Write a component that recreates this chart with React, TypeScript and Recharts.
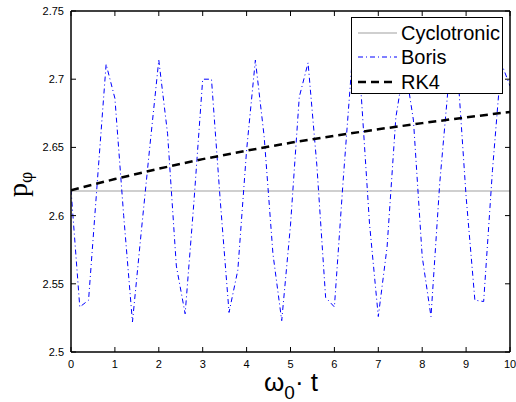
import {
  LineChart,
  Line,
  XAxis,
  YAxis,
  Legend,
  Label,
} from 'recharts'

// momentum p_phi vs normalised time, three integrators
const X_TICKS = [0, 1, 2, 3, 4, 5, 6, 7, 8, 9, 10]
const Y_TICKS = [2.5, 2.55, 2.6, 2.65, 2.7, 2.75]
const Y_TICK_LABELS = ['2.5', '2.55', '2.6', '2.65', '2.7', '2.75']

const T_CYCLO = [0, 10]
const P_CYCLO = [2.618, 2.618]

const T_BORIS = [
  0, 0.2, 0.4, 0.6, 0.8, 1, 1.2, 1.4, 1.6, 1.8, 2, 2.2, 2.4, 2.6, 2.8, 3, 3.2, 3.4, 3.6, 3.8, 4,
  4.2, 4.4, 4.6, 4.8, 5, 5.2, 5.4, 5.6, 5.8, 6, 6.2, 6.4, 6.6, 6.8, 7, 7.2, 7.4, 7.6, 7.8, 8,
  8.2, 8.4, 8.6, 8.8, 9, 9.2, 9.4, 9.6, 9.8, 10,
]
const P_BORIS = [
  2.619, 2.533, 2.538, 2.625, 2.711, 2.686, 2.6, 2.522, 2.588, 2.652, 2.714, 2.66, 2.563, 2.528,
  2.61, 2.7, 2.7, 2.611, 2.529, 2.56, 2.648, 2.714, 2.658, 2.572, 2.523, 2.593, 2.687, 2.712,
  2.637, 2.54, 2.533, 2.626, 2.712, 2.694, 2.594, 2.526, 2.577, 2.672, 2.712, 2.67, 2.57, 2.526,
  2.624, 2.697, 2.71, 2.614, 2.538, 2.537, 2.633, 2.712, 2.695,
]

const T_RK4 = [0, 1, 2, 3, 4, 5, 6, 7, 8, 9, 10]
const P_RK4 = [2.6186, 2.6268, 2.6344, 2.6414, 2.6476, 2.6534, 2.6585, 2.6633, 2.6678, 2.672, 2.676]

const toRows = (ts: number[], ps: number[]) => ts.map((t, i) => ({ t, p: ps[i] }))
const cycloData = toRows(T_CYCLO, P_CYCLO)
const borisData = toRows(T_BORIS, P_BORIS)
const rk4Data = toRows(T_RK4, P_RK4)

const W = 516
const H = 402
// axes are 1px thick, margins leave the plot box at x 71..510, y 11..352
const M = { top: 10, right: 5, bottom: 49, left: 70 }
const PLOT_TOP = 11
const PLOT_BOTTOM = 352
const PLOT_LEFT = 71
const PLOT_RIGHT = 510
const TICK = 5
const SANS = '"Liberation Sans", Arial, Helvetica, sans-serif'

const BOTTOM_TICK = (props: any) => {
  const { x, payload } = props
  return (
    <g>
      <line x1={x} x2={x} y1={PLOT_BOTTOM} y2={PLOT_BOTTOM - TICK} stroke="#000" />
      <text x={x} y={PLOT_BOTTOM + 16} textAnchor="middle" fontFamily={SANS} fontSize={11} fill="#000">
        {payload.value}
      </text>
    </g>
  )
}

const TOP_TICK = (props: any) => {
  const { x } = props
  return <line x1={x} x2={x} y1={PLOT_TOP} y2={PLOT_TOP + TICK} stroke="#000" />
}

const LEFT_TICK = (props: any) => {
  const { y, payload, index } = props
  return (
    <g>
      <line x1={PLOT_LEFT} x2={PLOT_LEFT + TICK} y1={y} y2={y} stroke="#000" />
      <text x={PLOT_LEFT - 7} y={y + 4} textAnchor="end" fontFamily={SANS} fontSize={11} fill="#000">
        {Y_TICK_LABELS[index] ?? payload.value}
      </text>
    </g>
  )
}

const RIGHT_TICK = (props: any) => {
  const { y } = props
  return <line x1={PLOT_RIGHT} x2={PLOT_RIGHT - TICK} y1={y} y2={y} stroke="#000" />
}

const XTitle = () => (
  <text x={291} y={391} textAnchor="middle" fontFamily={SANS} fontSize={26} fill="#000">
    ω
    <tspan fontSize={19} dy={8}>0</tspan>
    <tspan dy={-8}>· t</tspan>
  </text>
)

const YTitle = () => (
  <text
    x={27}
    y={197}
    transform="rotate(-90, 27, 197)"
    fontFamily='"Liberation Serif", "Times New Roman", serif'
    fontSize={28}
    fill="#000"
  >
    p
    <tspan fontFamily='"DejaVu Serif", serif' fontSize={16} dy={5}>φ</tspan>
  </text>
)

const LEGEND_ITEMS = [
  { label: 'Cyclotronic', color: '#bfbfbf', width: 1.5, dash: undefined },
  { label: 'Boris', color: '#0000ff', width: 1, dash: '5 3 1 3' },
  { label: 'RK4', color: '#000000', width: 2.5, dash: '8 5' },
]

const LegendBox = () => (
  <div
    style={{
      width: 152,
      height: 77,
      boxSizing: 'border-box',
      border: '1px solid #000',
      background: '#fff',
      fontFamily: SANS,
      fontSize: 20,
      paddingTop: 3,
    }}
  >
    {LEGEND_ITEMS.map((it) => (
      <div key={it.label} style={{ display: 'flex', alignItems: 'center', height: 24.3 }}>
        <svg width={49} height={24} style={{ display: 'block' }}>
          <line x1={6} x2={45} y1={12} y2={12} stroke={it.color} strokeWidth={it.width} strokeDasharray={it.dash} />
        </svg>
        <span style={{ lineHeight: '24px' }}>{it.label}</span>
      </div>
    ))}
  </div>
)

export default function App() {
  return (
    <div style={{ position: 'absolute', left: 0, top: 0, width: W, height: H, background: '#fff' }}>
      <LineChart width={W} height={H} margin={M}>
        <XAxis
          xAxisId="b"
          type="number"
          dataKey="t"
          domain={[0, 10]}
          ticks={X_TICKS}
          interval={0}
          height={1}
          tickSize={0}
          tickMargin={0}
          tickLine={false}
          tick={BOTTOM_TICK}
          axisLine={{ stroke: '#000', strokeWidth: 1.5 }}
          allowDataOverflow
        >
          <Label content={XTitle} />
        </XAxis>
        <XAxis
          xAxisId="tp"
          orientation="top"
          type="number"
          dataKey="t"
          domain={[0, 10]}
          ticks={X_TICKS}
          interval={0}
          height={1}
          tickSize={0}
          tickMargin={0}
          tickLine={false}
          tick={TOP_TICK}
          axisLine={{ stroke: '#000', strokeWidth: 1.5 }}
          allowDataOverflow
        />
        <YAxis
          yAxisId="l"
          type="number"
          domain={[2.5, 2.75]}
          ticks={Y_TICKS}
          interval={0}
          width={1}
          tickSize={0}
          tickMargin={0}
          tickLine={false}
          tick={LEFT_TICK}
          axisLine={{ stroke: '#000', strokeWidth: 1.5 }}
          allowDataOverflow
        >
          <Label content={YTitle} />
        </YAxis>
        <YAxis
          yAxisId="r"
          orientation="right"
          type="number"
          domain={[2.5, 2.75]}
          ticks={Y_TICKS}
          interval={0}
          width={1}
          tickSize={0}
          tickMargin={0}
          tickLine={false}
          tick={RIGHT_TICK}
          axisLine={{ stroke: '#000', strokeWidth: 1.5 }}
          allowDataOverflow
        />
        <Line
          xAxisId="b"
          yAxisId="l"
          data={cycloData}
          dataKey="p"
          name="Cyclotronic"
          stroke="#bfbfbf"
          strokeWidth={1.5}
          dot={false}
          activeDot={false}
          isAnimationActive={false}
        />
        <Line
          xAxisId="b"
          yAxisId="l"
          data={borisData}
          dataKey="p"
          name="Boris"
          stroke="#0000ff"
          strokeWidth={1}
          strokeDasharray="5 3 1 3"
          dot={false}
          activeDot={false}
          isAnimationActive={false}
        />
        <Line
          xAxisId="b"
          yAxisId="l"
          data={rk4Data}
          dataKey="p"
          name="RK4"
          stroke="#000"
          strokeWidth={2.5}
          strokeDasharray="8 5"
          dot={false}
          activeDot={false}
          isAnimationActive={false}
        />
        <Legend
          layout="vertical"
          align="center"
          verticalAlign="middle"
          content={LegendBox}
          wrapperStyle={{ left: 351, top: 17, width: 152, height: 77 }}
        />
      </LineChart>
    </div>
  )
}
